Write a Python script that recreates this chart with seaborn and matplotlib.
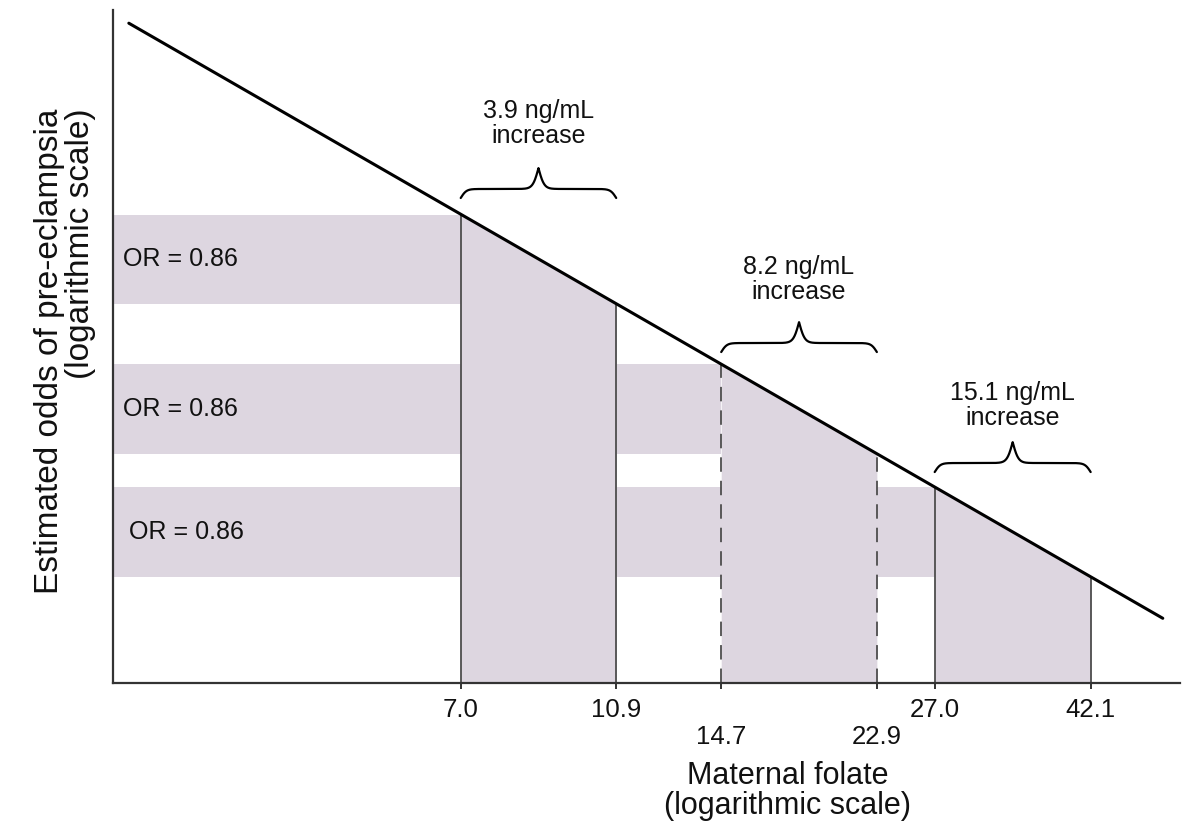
import numpy as np
import matplotlib
matplotlib.use("Agg")
import matplotlib.pyplot as plt
import matplotlib.transforms as mtransforms
import seaborn as sns

folate_ticks = [7.0, 10.9, 14.7, 22.9, 27.0, 42.1]
tick_labels = ["7.0", "10.9", "14.7", "22.9", "27.0", "42.1"]
odds_at_ticks = [1.00, 0.864, 0.782, 0.675, 0.639, 0.551]
line_folate = [2.72, 51.7]
line_odds = [1.37, 0.515]
or_labels = ["OR = 0.86", "OR = 0.86", "OR = 0.86"]
increase_labels = ["3.9 ng/mL\nincrease", "8.2 ng/mL\nincrease", "15.1 ng/mL\nincrease"]
dashed_ticks = [14.7, 22.9]

x_lim = (2.6, 54.3)
y_lim = (0.463, 1.40)

SHADE = "#ddd6e0"
AXIS_COL = "#333333"
VLINE_COL = "#4d4d4d"

sns.set_theme(style="ticks")
plt.rcParams["font.family"] = ["Liberation Sans", "DejaVu Sans"]

fig = plt.figure(figsize=(12.02, 8.35), dpi=100)
ax = fig.add_axes([0.094, 0.182, 0.8877, 0.806])
ax.set_xscale("log")
ax.set_yscale("log")
ax.set_xlim(*x_lim)
ax.set_ylim(*y_lim)


def draw_brace(ax, x0, x1, y_tip, tip=0.0134, peak=0.031, beta=55):
    # curly brace, x in data (log), y in axes fraction
    t = np.linspace(0, 1, 601)
    u = np.minimum(t, 1 - t)
    s1 = 1 / (1 + np.exp(-beta * u))
    s2 = 1 / (1 + np.exp(-beta * (u - 0.5)))
    ys = y_tip + tip * 2 * (s1 - 0.5) + peak * 2 * s2
    xs = 10 ** (np.log10(x0) + t * (np.log10(x1) - np.log10(x0)))
    trans = mtransforms.blended_transform_factory(ax.transData, ax.transAxes)
    ax.plot(xs, ys, color="black", lw=1.6, transform=trans, clip_on=False,
            solid_capstyle="round", zorder=5)


# horizontal OR strips, from the y axis to each band start
for i in range(3):
    x0 = folate_ticks[2 * i]
    hi = odds_at_ticks[2 * i]
    lo = odds_at_ticks[2 * i + 1]
    ax.fill_between([x_lim[0], x0], lo, hi, color=SHADE, lw=0, zorder=1)
    # region under the line across the folate increase
    ax.fill_between(folate_ticks[2 * i:2 * i + 2], y_lim[0],
                    odds_at_ticks[2 * i:2 * i + 2], color=SHADE, lw=0, zorder=1)
    ax.annotate(or_labels[i], xy=(0, np.sqrt(hi * lo)),
                xycoords=("axes fraction", "data"),
                xytext=(10 if i < 2 else 16, 0), textcoords="offset pixels",
                ha="left", va="center", fontsize=18, color="#111111")

# vertical drop lines
for x, o in zip(folate_ticks, odds_at_ticks):
    ls = (0, (8, 5)) if x in dashed_ticks else "-"
    ax.vlines(x, y_lim[0], o, colors=VLINE_COL, lw=1.3, linestyles=ls, zorder=2)

# estimated odds line
sns.lineplot(x=line_folate, y=line_odds, ax=ax, color="black", lw=2.2, zorder=4)

# braces and labels
brace_tips = [0.7207, 0.4918, 0.3135]
text_y = [0.832, 0.600, 0.413]
for i in range(3):
    x0, x1 = folate_ticks[2 * i], folate_ticks[2 * i + 1]
    draw_brace(ax, x0, x1, brace_tips[i])
    ax.text(np.sqrt(x0 * x1), text_y[i], increase_labels[i],
            transform=mtransforms.blended_transform_factory(ax.transData, ax.transAxes),
            ha="center", va="center", fontsize=18, linespacing=1.05, color="#111111")

# axes styling
sns.despine(ax=ax)
for side in ["left", "bottom"]:
    ax.spines[side].set_color(AXIS_COL)
    ax.spines[side].set_linewidth(1.6)
ax.set_xticks(folate_ticks, tick_labels)
ax.xaxis.set_minor_locator(matplotlib.ticker.NullLocator())
ax.yaxis.set_major_locator(matplotlib.ticker.NullLocator())
ax.yaxis.set_minor_locator(matplotlib.ticker.NullLocator())
ax.tick_params(axis="x", direction="out", length=4.5, width=1.4, color=AXIS_COL,
               labelsize=18.5, pad=6.0, labelcolor="#111111")
for tk in ax.xaxis.get_major_ticks()[2:4]:
    tk.set_pad(25.5)

ax.set_xlabel("Maternal folate\n(logarithmic scale)", fontsize=22, linespacing=1.0,
              color="#111111")
ax.xaxis.set_label_coords(0.632, -0.116)
ax.set_ylabel("Estimated odds of pre-eclampsia\n(logarithmic scale)", fontsize=24,
              linespacing=1.0, color="#111111", multialignment="right")
ax.yaxis.set_label_coords(-0.016, 0.493)

fig.savefig("out.png", dpi=100)
